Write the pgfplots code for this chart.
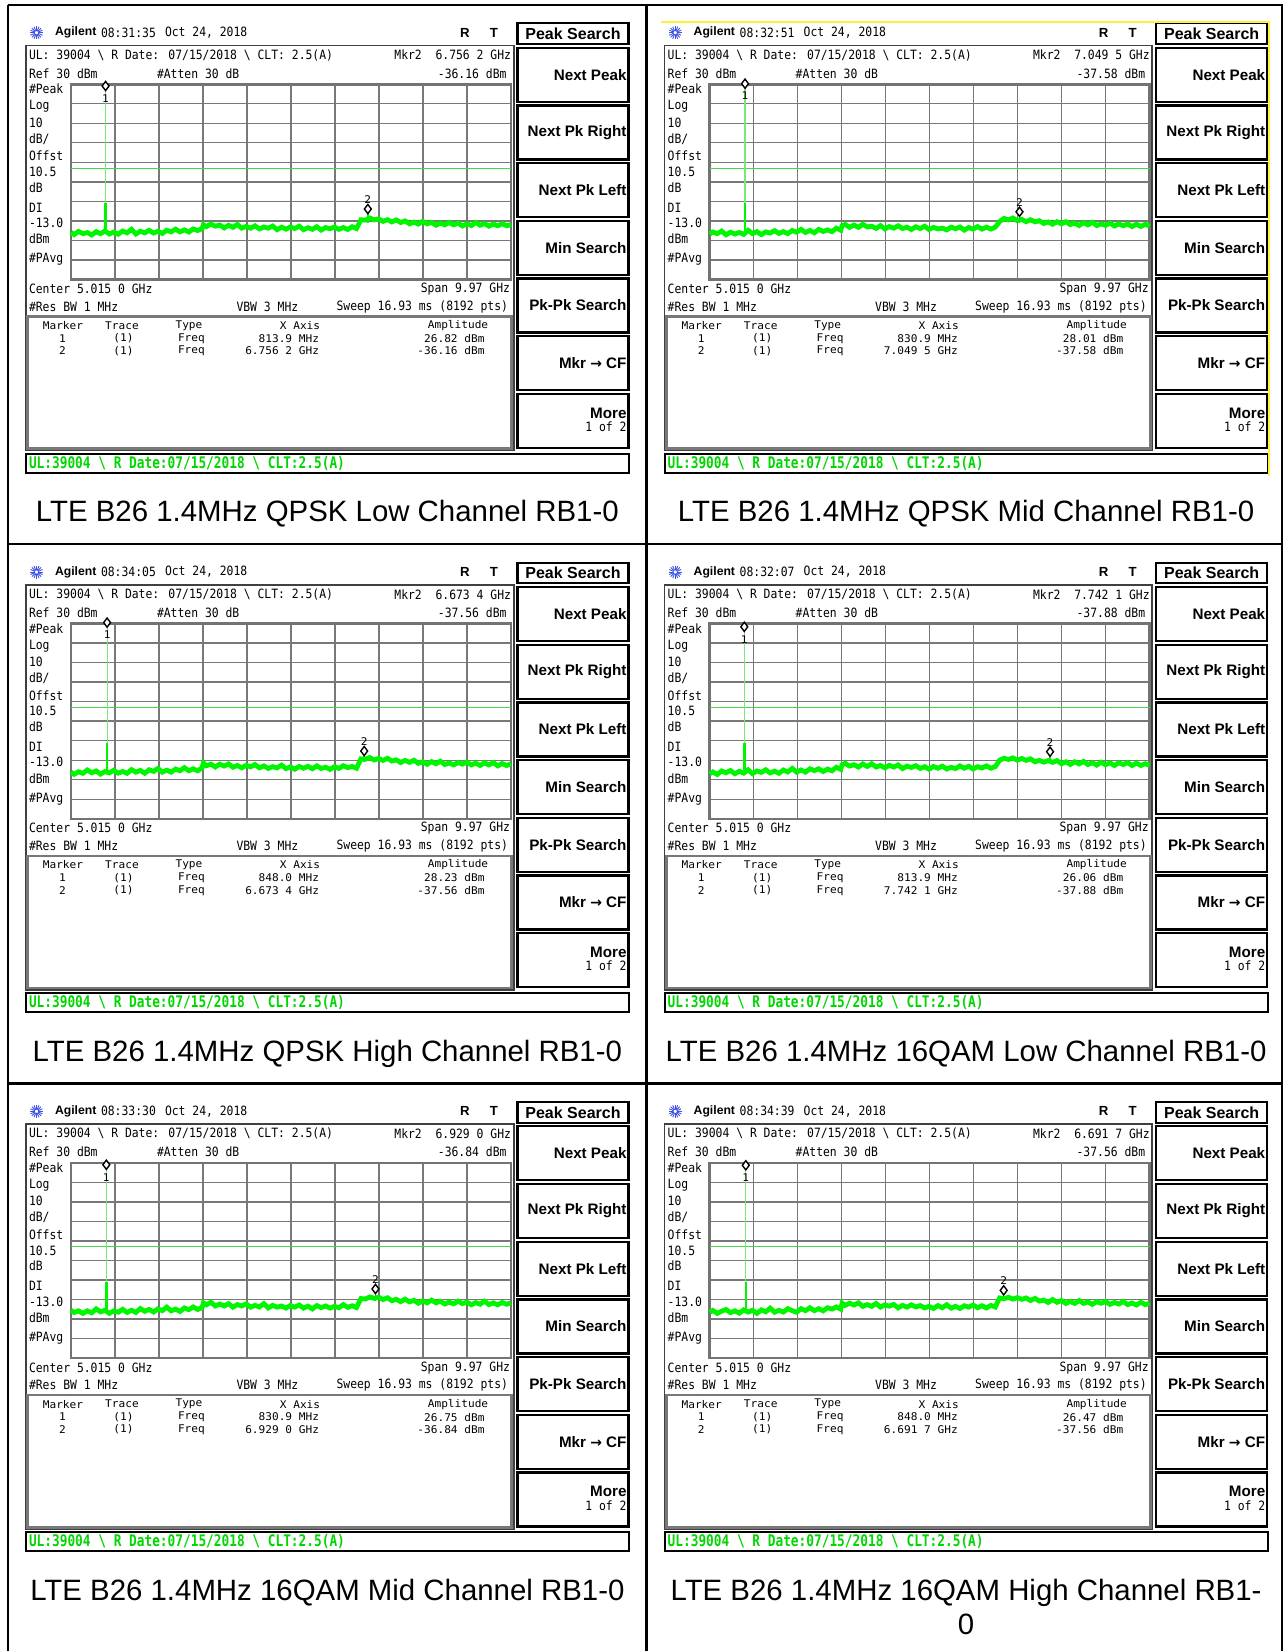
\documentclass[border=0pt]{standalone}
\usepackage{fontspec}
\setmainfont{Liberation Sans}
\newfontfamily\scrf[FakeStretch=0.89]{DejaVu Sans Mono}
\newfontfamily\tabf[FakeStretch=1.05]{DejaVu Sans Mono}
\newfontfamily\statf[FakeStretch=0.8]{DejaVu Sans Mono}
\newfontfamily\arrowf{DejaVu Sans}
\usepackage{pgfplots}
\pgfplotsset{compat=1.18}
\usepackage{pgfplotstable}

\definecolor{trc}{RGB}{0,245,0}
\definecolor{spk}{RGB}{120,232,120}
\definecolor{dln}{RGB}{70,215,70}
\definecolor{stg}{RGB}{0,215,0}
\definecolor{grd}{RGB}{120,120,120}
\definecolor{logo}{RGB}{60,80,230}
\definecolor{ylw}{RGB}{255,240,60}

\newcommand\SCR{\scrf\fontsize{6.4}{7}\selectfont}
\newcommand\TAB{\tabf\fontsize{5.3}{6}\selectfont}
\newcommand\KEY{\bfseries\fontsize{7.6}{9}\selectfont}
\newcommand\STAT{\statf\bfseries\fontsize{8}{9}\selectfont}

\pgfplotstableread{
f p1 p2 p3 p4 p5 p6
0.03 -45.8 -46.7 -46.1 -46.9 -45.5 -46.5
0.1 -47.0 -45.7 -47.2 -46.0 -46.6 -45.6
0.2 -45.4 -46.5 -45.9 -47.3 -45.8 -47.1
0.3 -46.5 -45.2 -46.7 -45.5 -47.1 -46.0
0.4 -46.0 -47.1 -45.0 -46.4 -45.8 -45.1
0.5 -47.2 -45.8 -46.4 -45.3 -46.8 -46.7
0.6 -45.5 -46.7 -45.5 -46.9 -44.8 -45.8
0.7 -46.5 -45.9 -47.1 -45.7 -46.3 -47.0
0.8 -45.1 -46.9 -45.8 -46.6 -45.5 -45.3
0.9 -46.7 -44.8 -46.5 -44.9 -47.1 -46.4
1.0 -45.7 -46.5 -45.1 -46.9 -45.8 -45.5
1.1 -46.8 -45.5 -46.6 -45.5 -46.5 -47.1
1.2 -45.2 -47.0 -45.8 -46.2 -45.0 -45.3
1.3 -46.1 -45.6 -46.7 -44.9 -46.6 -46.3
1.4 -44.3 -46.2 -44.8 -46.5 -45.5 -44.4
1.5 -46.7 -45.0 -46.1 -45.6 -46.6 -46.5
1.6 -45.3 -46.4 -45.2 -46.7 -44.6 -45.5
1.7 -46.1 -45.5 -46.7 -45.0 -46.0 -46.4
1.8 -44.8 -46.5 -44.9 -46.0 -45.1 -44.7
1.9 -46.2 -44.9 -45.7 -44.2 -46.4 -45.7
2.0 -45.3 -45.8 -44.2 -46.1 -44.8 -46.5
2.1 -46.4 -44.3 -46.1 -45.0 -45.7 -44.7
2.2 -44.8 -45.9 -45.1 -46.1 -43.9 -45.7
2.3 -45.6 -44.9 -46.1 -44.4 -45.8 -44.2
2.4 -44.2 -46.1 -44.5 -45.3 -44.9 -45.7
2.5 -45.6 -44.3 -45.4 -44.4 -46.1 -44.7
2.6 -44.6 -45.4 -43.8 -45.8 -44.3 -45.8
2.7 -45.7 -44.6 -45.4 -44.5 -45.2 -44.2
2.8 -44.1 -45.5 -44.4 -45.4 -43.8 -44.9
2.9 -44.9 -43.7 -45.4 -43.6 -45.1 -43.8
3.0 -44.0 -44.8 -43.9 -44.7 -44.1 -44.9
3.03 -41.9 -42.4 -41.4 -42.3 -41.7 -41.8
3.1 -42.9 -41.8 -42.8 -41.6 -42.7 -43.0
3.2 -41.6 -43.3 -42.0 -43.0 -41.4 -41.9
3.3 -42.7 -42.1 -43.5 -42.3 -43.3 -42.8
3.4 -42.1 -43.3 -42.0 -43.5 -42.3 -41.7
3.5 -43.6 -41.7 -43.0 -41.9 -43.3 -43.5
3.6 -42.2 -43.1 -41.9 -43.2 -42.1 -42.6
3.7 -43.3 -42.7 -43.6 -41.8 -43.9 -43.5
3.8 -41.8 -43.8 -42.7 -43.5 -42.6 -42.0
3.9 -43.7 -42.4 -43.9 -42.7 -43.3 -43.9
4.0 -42.8 -44.1 -42.6 -43.9 -42.2 -42.7
4.1 -43.7 -42.9 -43.4 -42.6 -43.9 -43.4
4.2 -42.5 -43.7 -42.2 -43.5 -43.0 -42.5
4.3 -44.1 -42.5 -43.9 -42.4 -43.8 -44.3
4.4 -43.1 -43.9 -42.9 -44.3 -42.1 -43.0
4.5 -43.7 -43.2 -44.2 -43.0 -44.3 -43.9
4.6 -42.6 -44.4 -43.3 -43.7 -43.0 -42.7
4.7 -44.5 -43.0 -43.9 -42.8 -43.9 -43.8
4.8 -43.2 -43.9 -42.5 -44.2 -43.3 -43.1
4.9 -44.2 -42.7 -44.3 -43.3 -44.4 -44.3
5.0 -43.1 -44.4 -43.4 -44.6 -43.1 -43.5
5.1 -43.9 -43.3 -44.6 -43.2 -43.9 -44.6
5.2 -42.7 -44.1 -43.2 -44.1 -42.8 -43.1
5.3 -44.5 -43.7 -44.1 -43.0 -44.4 -44.2
5.4 -43.5 -44.6 -43.1 -44.5 -43.4 -42.7
5.5 -44.3 -43.2 -44.4 -43.6 -44.8 -44.4
5.6 -43.0 -44.0 -42.9 -44.3 -43.1 -43.5
5.7 -44.7 -43.1 -44.2 -42.9 -44.1 -44.6
5.8 -43.4 -44.7 -43.6 -44.1 -43.3 -43.2
5.9 -44.0 -43.4 -44.7 -43.1 -44.4 -43.9
6.0 -43.1 -44.2 -43.3 -44.5 -43.5 -42.8
6.1 -44.3 -42.9 -44.2 -43.3 -44.2 -44.2
6.2 -43.4 -44.2 -42.8 -44.0 -42.6 -43.2
6.3 -44.4 -43.2 -43.8 -42.9 -44.0 -44.3
6.4 -43.0 -44.2 -43.2 -44.1 -43.2 -43.0
6.5 -43.9 -43.2 -44.1 -43.3 -44.1 -43.8
6.6 -39.4 -40.3 -39.3 -40.0 -39.5 -39.2
6.7 -39.6 -38.7 -39.5 -39.0 -39.7 -39.6
6.8 -38.5 -39.5 -38.6 -39.6 -38.7 -38.8
6.9 -39.5 -38.5 -39.9 -38.8 -39.4 -39.8
7.0 -38.9 -39.9 -39.1 -40.0 -38.8 -39.0
7.1 -40.2 -39.2 -40.1 -39.1 -40.0 -39.9
7.2 -39.4 -40.4 -39.0 -40.1 -39.1 -39.2
7.3 -40.5 -39.4 -40.4 -39.3 -40.6 -40.5
7.4 -39.5 -40.5 -39.8 -40.8 -39.9 -39.4
7.5 -40.8 -39.9 -41.2 -40.1 -41.1 -40.8
7.6 -40.0 -41.3 -40.1 -41.0 -39.8 -40.3
7.7 -41.5 -40.5 -41.1 -40.2 -41.2 -41.5
7.8 -40.6 -41.7 -40.0 -41.1 -40.4 -40.0
7.9 -41.6 -40.4 -41.6 -40.2 -41.9 -41.4
8.0 -40.2 -41.5 -40.8 -41.8 -40.7 -40.5
8.1 -41.5 -40.4 -42.1 -40.8 -41.7 -42.0
8.2 -40.8 -41.9 -40.7 -42.2 -40.3 -41.0
8.3 -42.2 -41.1 -41.8 -40.8 -41.7 -42.0
8.4 -41.1 -42.4 -40.5 -41.9 -40.9 -40.5
8.5 -42.0 -40.9 -42.2 -40.6 -42.3 -42.0
8.6 -40.8 -42.0 -41.4 -42.2 -41.3 -41.2
8.7 -42.0 -40.7 -42.4 -41.3 -42.2 -42.5
8.8 -41.1 -42.4 -41.2 -42.5 -40.8 -41.1
8.9 -42.6 -41.5 -42.0 -41.0 -42.1 -41.9
9.0 -41.5 -42.3 -40.9 -42.3 -41.3 -41.0
9.1 -42.4 -41.1 -42.4 -41.4 -42.7 -42.5
9.2 -40.8 -42.6 -41.5 -42.7 -41.6 -41.5
9.3 -42.2 -41.5 -42.7 -41.3 -42.4 -42.3
9.4 -41.4 -42.5 -41.3 -42.2 -40.8 -41.0
9.5 -42.7 -41.5 -42.4 -41.2 -42.6 -42.6
9.6 -41.6 -42.9 -41.2 -42.7 -41.7 -41.8
9.7 -42.5 -41.7 -42.9 -41.5 -42.7 -42.8
9.8 -41.4 -42.8 -41.7 -42.7 -41.5 -41.4
9.9 -42.5 -41.7 -42.7 -41.8 -42.4 -42.6
10.0 -41.9 -42.7 -41.8 -42.6 -41.7 -41.9
}\trace

% #1 dx, #2 dy, #3 time, #4 column, #5 m1 f (GHz), #6 m1 amp, #7 m2 f (GHz), #8 m2 amp, #9 m2 f text
\newcommand\panel[9]{%
\begin{scope}[shift={(#1,#2)}]
 \foreach \a in {0,22.5,...,337.5}{\draw[logo,line width=0.45pt] (36.5,32.7) -- ++(\a:6.5);}
 \fill[white] (36.5,32.7) circle (2.2);
 \draw[logo,line width=0.4pt] (36.5,32.7) circle (2.2);
 \node[anchor=west,font=\bfseries\fontsize{6.1}{7}\selectfont] at (55,32.7) {Agilent};
 \node[anchor=west,font=\SCR] at (101,32.7) {#3};
 \node[anchor=west,font=\SCR] at (165,32.7) {Oct 24, 2018};
 \node[font=\bfseries\fontsize{6.6}{7}\selectfont] at (465,32.7) {R};
 \node[font=\bfseries\fontsize{6.6}{7}\selectfont] at (494,32.7) {T};
 % softkeys
 \draw[line width=1.1pt] (517.5,23.3) rectangle (628.5,44);
 \node[font=\bfseries\fontsize{8}{9}\selectfont] at (573,33.8) {Peak Search};
 \foreach \ty/\lab in {47.7/Next Peak,105.4/Next Pk Right,163.1/Next Pk Left,220.8/Min Search,278.5/Pk-Pk Search}{%
   \draw[line width=1.1pt] (517.5,\ty) rectangle (628.5,{\ty+54});
   \node[anchor=east,font=\KEY] at (626.5,{\ty+27}) {\lab};}
 \draw[line width=1.1pt] (517.5,336.2) rectangle (628.5,390.2);
 \node[anchor=east,font=\KEY] at (626.5,363.2) {Mkr {\arrowf\bfseries\fontsize{7}{8}\selectfont →} CF};
 \draw[line width=1.1pt] (517.5,393.9) rectangle (628.5,447.9);
 \node[anchor=east,font=\KEY] at (626.5,413) {More};
 \node[anchor=east,font=\SCR] at (626.5,426.7) {1 of 2};
 % screen frame
 \draw[black!75,line width=0.9pt] (25.8,45.5) rectangle (513.6,450.5);
 \node[anchor=west,font=\SCR] at (29,55) {UL: 39004 \textbackslash{} R Date: 07/15/2018 \textbackslash{} CLT: 2.5(A)};
 \node[anchor=east,font=\SCR] at (511,55) {Mkr2\ \ #9 GHz};
 \node[anchor=west,font=\SCR] at (29,73.3) {Ref 30 dBm};
 \node[anchor=west,font=\SCR] at (157,73.3) {\#Atten 30 dB};
 \node[anchor=east,font=\SCR] at (506.5,73.3) {#8 dBm};
 \node[anchor=west,font=\SCR] at (29,89) {\#Peak};
 \node[anchor=west,font=\SCR] at (29,106.5) {Log};
 \node[anchor=west,font=\SCR] at (29,122.5) {10};
 \node[anchor=west,font=\SCR] at (29,139) {dB/};
 \node[anchor=west,font=\SCR] at (29,156) {Offst};
 \node[anchor=west,font=\SCR] at (29,172) {10.5};
 \node[anchor=west,font=\SCR] at (29,187.5) {dB};
 \node[anchor=west,font=\SCR] at (29,207.5) {DI};
 \node[anchor=west,font=\SCR] at (29,223) {-13.0};
 \node[anchor=west,font=\SCR] at (29,239) {dBm};
 \node[anchor=west,font=\SCR] at (29,259.5) {\#PAvg};
 \node[anchor=west,font=\SCR] at (29,289) {Center 5.015 0 GHz};
 \node[anchor=east,font=\SCR] at (510,289) {Span 9.97 GHz};
 \node[anchor=west,font=\SCR] at (29,306.5) {\#Res BW 1 MHz};
 \node[anchor=west,font=\SCR] at (236.5,306.5) {VBW 3 MHz};
 \node[anchor=east,font=\SCR] at (508,306.5) {Sweep 16.93 ms (8192 pts)};
 % marker table
 \draw[grd,line width=1.3pt] (27.6,316.5) rectangle (511.7,448.7);
 \node[font=\TAB] at (63,325.5) {Marker};
 \node[font=\TAB] at (122,325.5) {Trace};
 \node[font=\TAB] at (189,325.5) {Type};
 \node[font=\TAB] at (300,325.5) {X Axis};
 \node[font=\TAB] at (458,325.5) {Amplitude};
 \node[font=\TAB] at (62.5,338.5) {1};
 \node[font=\TAB] at (123.5,338.5) {(1)};
 \node[anchor=west,font=\TAB] at (178,338.5) {Freq};
 \node[anchor=east,font=\TAB] at (319,338.5) {\mOne\ MHz};
 \node[anchor=east,font=\TAB] at (484.5,338.5) {#6 dBm};
 \node[font=\TAB] at (62.5,351) {2};
 \node[font=\TAB] at (123.5,351) {(1)};
 \node[anchor=west,font=\TAB] at (178,351) {Freq};
 \node[anchor=east,font=\TAB] at (319,351) {#9 GHz};
 \node[anchor=east,font=\TAB] at (484.5,351) {#8 dBm};
 % status bar
 \draw[line width=1pt] (25.8,453.6) rectangle (628.8,472.8);
 \node[anchor=west,font=\STAT,text=stg] at (29,463.2) {UL:39004 \textbackslash{} R Date:07/15/2018 \textbackslash{} CLT:2.5(A)};
\end{scope}
\coordinate (g) at ({#1+71},{#2+84.2});
\begin{axis}[at={(g)}, anchor=north west, width=220pt, height=97.65pt, scale only axis,
  xmin=0.03, xmax=10, ymin=-70, ymax=30,
  xtick={1.027,2.024,3.021,4.018,5.015,6.012,7.009,8.006,9.003},
  ytick={-60,-50,...,20}, xticklabels={}, yticklabels={},
  major tick length=0pt, grid=major, grid style={grd,line width=0.7pt},
  axis line style={black!55,line width=1.3pt}, clip=false]
 \addplot[dln,line width=0.6pt] coordinates {(0.03,-13) (10,-13)};
 \addplot[trc,line width=2.4pt,line join=miter,miter limit=3] table[x=f,y=#4] {\trace};
 \addplot[spk,line width=0.6pt] coordinates {(#5,-44) (#5,#6)};
 \addplot[trc,line width=1.2pt] coordinates {(#5,-45) (#5,-31)};
 \addplot[trc,line width=0.8pt] coordinates {(#7,-41) (#7,#8)};
 \addplot[only marks,mark=diamond*,mark size=2.3pt,
   mark options={fill=white,draw=black,line width=0.7pt,yshift=2.2pt}] coordinates {(#5,#6) (#7,#8)};
 \node[font=\TAB] at (axis cs:#5,#6) [yshift=-4pt] {1};
 \node[font=\TAB] at (axis cs:#7,#8) [yshift=7pt] {2};
\end{axis}
}

\begin{document}
\begin{tikzpicture}[x=0.5pt,y=-0.5pt,every node/.style={inner sep=0pt,outer sep=0pt}]
\path[use as bounding box] (0,0) rectangle (1283,1651);
\fill[white] (0,0) rectangle (1283,1651);
% table borders
\draw[line width=1.1pt] (7.5,5.3) -- (1283,5.3);
\draw[line width=1.1pt] (7.5,544.3) -- (1283,544.3);
\draw[line width=1.1pt] (7.5,1083.5) -- (1283,1083.5);
\draw[line width=1.1pt] (8.3,5.3) -- (8.3,1651);
\draw[line width=1.1pt] (646.5,5.3) -- (646.5,1651);
\draw[line width=1.1pt] (1282,5.3) -- (1282,1651);

\def\mOne{813.9}
\panel{0}{0}{08:31:35}{p1}{0.8139}{26.82}{6.7562}{-36.16}{6.756 2}
\def\mOne{830.9}
\panel{638.7}{0}{08:32:51}{p2}{0.8309}{28.01}{7.0495}{-37.58}{7.049 5}
\def\mOne{848.0}
\panel{0}{539.3}{08:34:05}{p3}{0.8480}{28.23}{6.6734}{-37.56}{6.673 4}
\def\mOne{813.9}
\panel{638.7}{539.3}{08:32:07}{p4}{0.8139}{26.06}{7.7421}{-37.88}{7.742 1}
\def\mOne{830.9}
\panel{0}{1078.6}{08:33:30}{p5}{0.8309}{26.75}{6.9290}{-36.84}{6.929 0}
\def\mOne{848.0}
\panel{638.7}{1078.6}{08:34:39}{p6}{0.8480}{26.47}{6.6917}{-37.56}{6.691 7}

% yellow selection outline on the second screenshot
\draw[ylw,line width=0.9pt] (661,22) -- (1268.8,22) -- (1268.8,476);

% captions
\begin{scope}[every node/.style={inner sep=0pt,font=\fontsize{14.7}{17}\selectfont,anchor=base}]
\node at (327.4,521.7) {LTE B26 1.4MHz QPSK Low Channel RB1-0};
\node at (966.1,521.7) {LTE B26 1.4MHz QPSK Mid Channel RB1-0};
\node at (327.4,1061) {LTE B26 1.4MHz QPSK High Channel RB1-0};
\node at (966.1,1061) {LTE B26 1.4MHz 16QAM Low Channel RB1-0};
\node at (327.4,1600.3) {LTE B26 1.4MHz 16QAM Mid Channel RB1-0};
\node at (966.1,1600.3) {LTE B26 1.4MHz 16QAM High Channel RB1-};
\node at (966.1,1634) {0};
\end{scope}
\end{tikzpicture}
\end{document}
